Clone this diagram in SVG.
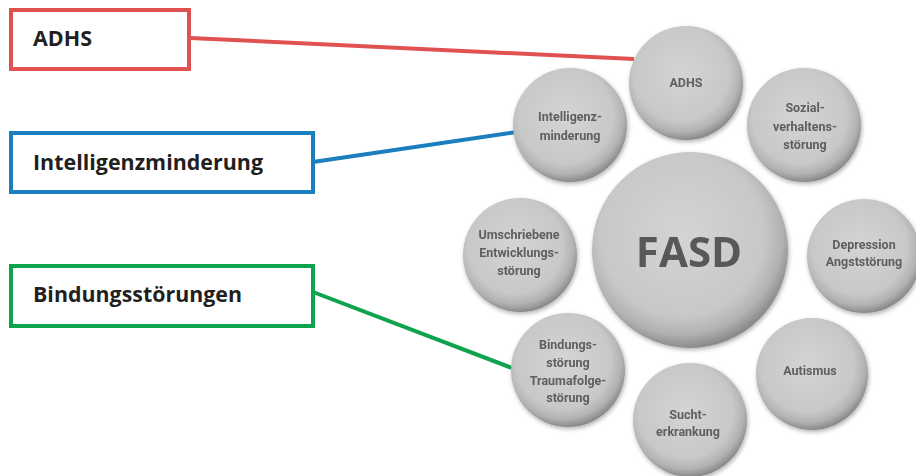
<svg xmlns="http://www.w3.org/2000/svg" width="916" height="476" viewBox="0 0 916 476">
  <defs>
    <radialGradient id="ball" cx="0.46" cy="0.42" r="0.58">
      <stop offset="0" stop-color="#d4d4d4"/>
      <stop offset="0.72" stop-color="#c8c8c8"/>
      <stop offset="0.88" stop-color="#b2b2b2"/>
      <stop offset="1" stop-color="#8a8a8a"/>
    </radialGradient>
    <filter id="shade" x="-20%" y="-20%" width="140%" height="140%">
      <feDropShadow dx="1" dy="2" stdDeviation="2.2" flood-color="#000" flood-opacity="0.3"/>
    </filter>
    <filter id="soft" x="-10%" y="-30%" width="120%" height="160%">
      <feGaussianBlur stdDeviation="0.35"/>
    </filter>
  </defs>
  <style>
    .box { fill: #fff; stroke-width: 4; }
    .lbl { font-family: "Open Sans", "Liberation Sans", sans-serif; font-weight: 700; font-size: 21px; fill: #231f20; }
    .ball { fill: url(#ball); filter: url(#shade); }
    .t { font-family: "Roboto", "Liberation Sans", sans-serif; font-weight: 700; font-size: 12.5px; fill: #5e5e5e; text-anchor: middle; filter: url(#soft); }
    .big { font-family: "Open Sans", "Liberation Sans", sans-serif; font-weight: 700; font-size: 42px; fill: #585858; text-anchor: middle; filter: url(#soft); }
    .conn { fill: none; stroke-width: 4; }
  </style>

  <!-- connectors from the callout boxes to the circles -->
  <g id="connectors">
    <line class="conn" x1="190" y1="38" x2="634" y2="59" stroke="#e05252"/>
    <line class="conn" x1="313" y1="162" x2="517" y2="132" stroke="#1a7ebf"/>
    <line class="conn" x1="313" y1="292" x2="512" y2="368" stroke="#0ea34c"/>
  </g>

  <!-- callout boxes -->
  <g id="box-adhs">
    <rect class="box" x="11" y="10" width="178" height="59" stroke="#e05252"/>
    <text class="lbl" x="33" y="46" textLength="59" lengthAdjust="spacingAndGlyphs">ADHS</text>
  </g>
  <g id="box-intelligenz">
    <rect class="box" x="11" y="133" width="302" height="59" stroke="#1a7ebf"/>
    <text class="lbl" x="33" y="170" textLength="230" lengthAdjust="spacingAndGlyphs">Intelligenzminderung</text>
  </g>
  <g id="box-bindung">
    <rect class="box" x="11" y="266" width="302" height="60" stroke="#0ea34c"/>
    <text class="lbl" x="33" y="302" textLength="209" lengthAdjust="spacingAndGlyphs">Bindungsstörungen</text>
  </g>

  <!-- circle cluster -->
  <g id="fasd">
    <circle class="ball" cx="690" cy="250" r="98"/>
    <text class="big" x="689" y="267">FASD</text>
  </g>
  <g id="adhs">
    <circle class="ball" cx="686" cy="83" r="57"/>
    <text class="t" x="686" y="87">ADHS</text>
  </g>
  <g id="intelligenz">
    <circle class="ball" cx="570" cy="125" r="57"/>
    <text class="t" x="570" y="121">Intelligenz-</text>
    <text class="t" x="570" y="140">minderung</text>
  </g>
  <g id="sozial">
    <circle class="ball" cx="804" cy="125" r="57"/>
    <text class="t" x="805" y="112">Sozial-</text>
    <text class="t" x="805" y="131">verhaltens-</text>
    <text class="t" x="805" y="149">störung</text>
  </g>
  <g id="umschriebene">
    <circle class="ball" cx="520" cy="255" r="57"/>
    <text class="t" x="519" y="239">Umschriebene</text>
    <text class="t" x="519" y="257">Entwicklungs-</text>
    <text class="t" x="519" y="275">störung</text>
  </g>
  <g id="depression">
    <circle class="ball" cx="864" cy="256" r="57"/>
    <text class="t" x="864" y="249">Depression</text>
    <text class="t" x="864" y="266">Angststörung</text>
  </g>
  <g id="bindung">
    <circle class="ball" cx="568" cy="370" r="57"/>
    <text class="t" x="568" y="349">Bindungs-</text>
    <text class="t" x="568" y="367">störung</text>
    <text class="t" x="568" y="385">Traumafolge-</text>
    <text class="t" x="568" y="402">störung</text>
  </g>
  <g id="autismus">
    <circle class="ball" cx="812" cy="374" r="56"/>
    <text class="t" x="810" y="375">Autismus</text>
  </g>
  <g id="sucht">
    <circle class="ball" cx="690" cy="420" r="57"/>
    <text class="t" x="688" y="419">Sucht-</text>
    <text class="t" x="688" y="436">erkrankung</text>
  </g>
</svg>
